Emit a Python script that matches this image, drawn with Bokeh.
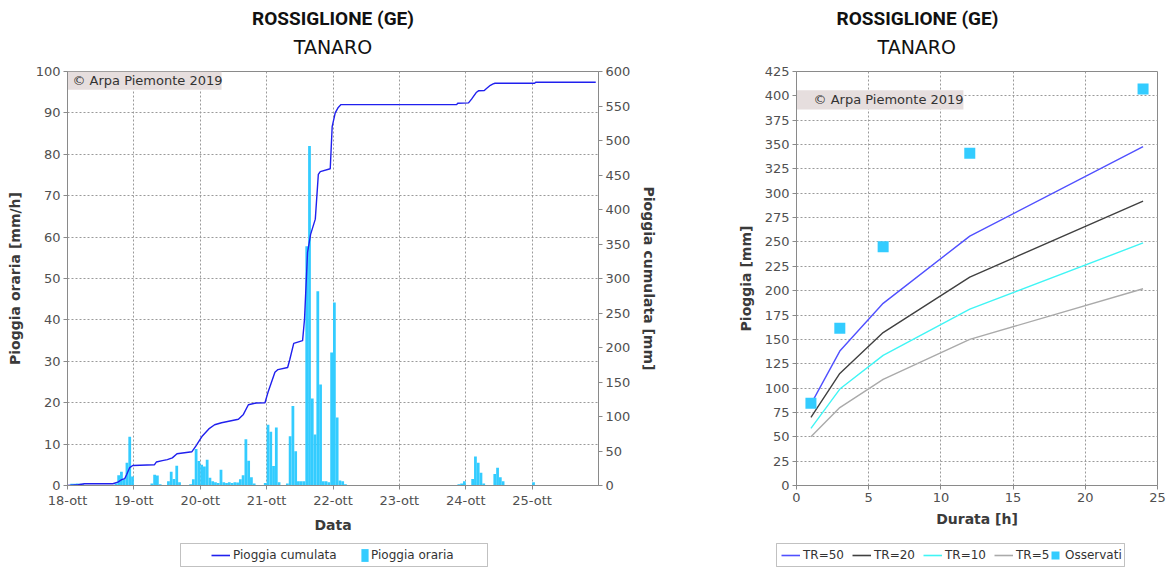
from bokeh.plotting import figure
from bokeh.layouts import row, column
from bokeh.models import (Range1d, LinearAxis, FixedTicker, Legend, LegendItem,
                          Label, BoxAnnotation, Title, ColumnDataSource)
from bokeh.embed import file_html
from bokeh.resources import INLINE

# ---------------- data ----------------
station = "ROSSIGLIONE (GE)"
basin = "TANARO"
copyright_text = "© Arpa Piemonte 2019"

day_ticks_h = [0, 24, 48, 72, 96, 120, 144, 168]
day_labels = ["18-ott", "19-ott", "20-ott", "21-ott", "22-ott", "23-ott", "24-ott", "25-ott"]

# hourly rain [mm/h], one value per hour from 18-ott 00:00
hourly_mm = (
    [0, 0.4, 0.4, 0.5, 0.4, 0.3, 0, 0, 0, 0, 0, 0, 0, 0, 0, 0, 0, 0.5, 2.5, 3.3, 1.5, 5.5, 11.8, 2.2]
    + [0, 0, 0, 0, 0, 0, 0.5, 2.6, 2.4, 0.3, 0, 0, 1.0, 3.3, 1.6, 4.8, 0.8, 0, 0, 0, 0.3, 1.5, 8.8, 5.9]
    + [5.0, 4.6, 6.2, 1.9, 1.0, 0.8, 0.6, 3.8, 0.8, 0.6, 0.8, 0.6, 0.8, 0.7, 1.5, 2.5, 11.2, 6.0, 2.0, 0.5, 0, 0, 0, 0.6]
    + [14.7, 13.0, 4.7, 14.0, 0.8, 0, 0, 0.5, 11.9, 19.2, 8.3, 1.0, 1.0, 1.0, 57.8, 82.0, 21.0, 12.3, 46.9, 24.4, 1.0, 1.0, 0.8, 32.1]
    + [44.2, 16.4, 1.2, 1.0, 0.3, 0, 0, 0, 0, 0, 0, 0, 0, 0, 0, 0, 0, 0, 0, 0, 0, 0, 0, 0]
    + [0, 0, 0, 0, 0, 0, 0, 0, 0, 0, 0, 0, 0, 0, 0, 0, 0, 0, 0, 0, 0, 0.3, 0.5, 1.0]
    + [0, 0, 1.6, 7.0, 5.5, 3.1, 0.5, 0, 0, 0, 2.8, 4.3, 2.0, 1.0, 0, 0, 0, 0, 0, 0, 0, 0, 0, 0]
    + [0.8, 0, 0, 0, 0, 0, 0, 0, 0, 0, 0, 0, 0, 0, 0, 0, 0, 0, 0, 0, 0, 0, 0, 0]
)

# cumulative rain [mm] (hours from 18-ott 00:00)
cum_hours = [0, 1.8, 3.9, 6.1, 16.4, 18.2, 19.6, 20.7, 21.4, 22.5, 23.6, 31.4, 32.1, 34.3, 36.1,
             37.9, 39.6, 45.0, 46.4, 48.6, 51.1, 53.2, 55.7, 61.8, 63.6, 65.4, 68.2, 71.4, 72.5,
             75.0, 76.1, 79.6, 80.4, 81.8, 85.0, 85.7, 86.8, 87.9, 89.6, 90.7, 91.4, 95.0, 95.7,
             96.8, 97.9, 98.9, 140.7, 141.1, 145.0, 146.1, 147.9, 148.6, 150.7, 151.4, 152.9,
             153.9, 154.6, 168.9, 169.3, 191.0]
cum_mm = [0, 0.5, 1.0, 2.5, 2.5, 5, 8.5, 10, 16, 26, 29, 30, 34, 36, 37.5,
          40, 46, 49, 57, 71, 82, 88, 91, 96, 103, 117, 119.5, 120, 135,
          164, 168, 171, 183, 206, 210, 241, 338, 364, 386, 451, 455, 459, 520,
          540, 548, 552, 552, 554, 554.5, 560, 570, 572, 572.5, 575, 580,
          582, 583, 583, 584.5, 584.5]

durations_h = [1, 3, 6, 12, 24]
tr50 = [83.5, 138, 187, 256, 348]
tr20 = [70, 115, 157, 214, 292]
tr10 = [58.6, 99, 133.6, 181, 249]
tr5 = [50, 80, 109, 150, 202]
observed = [84.5, 161.5, 245, 341, 407]

# ---------------- style ----------------
FONT = "DejaVu Sans"
TICK_COLOR = "#505050"
LABEL_COLOR = "#3a3a3a"
GRID_COLOR = "#9a9a9a"
BAR_DARK = "#33CCFF"
BOX_BG = "#E6DEDE"
CUM_COLOR = "#2020EE"
C50, C20, C10, C5 = "#5050FF", "#404040", "#40F5F5", "#AAAAAA"

TOTAL_W = 1174
MAIN_H = 535
LEG_H = 37
LEFT_W = 660
RIGHT_W = TOTAL_W - LEFT_W
NAN = float("nan")


def style_axis(ax):
    ax.major_label_text_font = FONT
    ax.major_label_text_font_size = "13px"
    ax.major_label_text_color = TICK_COLOR
    ax.axis_label_text_font = FONT
    ax.axis_label_text_font_size = "14px"
    ax.axis_label_text_font_style = "bold"
    ax.axis_label_text_color = LABEL_COLOR
    ax.axis_line_color = "#8a8a8a"
    ax.major_tick_line_color = "#8a8a8a"
    ax.minor_tick_line_color = None
    ax.major_tick_in = 0
    ax.major_tick_out = 4
    ax.major_label_standoff = 3


def add_titles(p, align="center", offsets=(0, 0)):
    p.title.text = station
    p.title.text_font = "Roboto"
    p.title.text_font_size = "19px"
    p.title.text_font_style = "bold"
    p.title.text_color = "#111111"
    p.title.align = align
    p.title.offset = offsets[0]
    p.title.standoff = -20
    t = Title(text=basin, text_font=FONT, text_font_size="19px", text_font_style="normal",
              text_color="#111111", align=align, offset=offsets[1], standoff=28)
    p.add_layout(t, "above")


def make_legend(items, x, y, glyph_w, glyph_h, spacing=8, standoff=3):
    return Legend(items=items, orientation="horizontal", location=(x, y),
                  border_line_color=None, background_fill_alpha=0.0,
                  label_text_font=FONT, label_text_font_size="12px", label_text_color="#333333",
                  glyph_width=glyph_w, glyph_height=glyph_h, spacing=spacing, padding=0,
                  margin=0, label_standoff=standoff, label_height=14)


# ---------------- left chart ----------------
p1 = figure(width=LEFT_W, height=MAIN_H, x_range=Range1d(0, 192), y_range=Range1d(0, 100),
            output_backend="svg", toolbar_location=None,
            min_border_left=67, min_border_right=LEFT_W - 67 - 537, min_border_top=71,
            min_border_bottom=MAIN_H - 71 - 416)
p1.background_fill_color = "white"
p1.border_fill_color = "white"
p1.outline_line_color = "#8a8a8a"
add_titles(p1)

p1.extra_y_ranges = {"cum": Range1d(0, 600)}

hours_mid = [h + 0.5 for h in range(len(hourly_mm))]
src_bar = ColumnDataSource(dict(x=hours_mid, top=hourly_mm))
p1.vbar(x="x", top="top", width=1.0, source=src_bar, fill_color=BAR_DARK, line_color=None)
p1.line(cum_hours, cum_mm, y_range_name="cum", line_color=CUM_COLOR, line_width=1.4)

p1.xaxis.ticker = FixedTicker(ticks=day_ticks_h)
p1.xaxis.major_label_overrides = {k: v for k, v in zip(day_ticks_h, day_labels)}
p1.xaxis.axis_label = "Data"
p1.yaxis.ticker = FixedTicker(ticks=list(range(0, 101, 10)))
p1.yaxis.axis_label = "Pioggia oraria [mm/h]"
right_ax = LinearAxis(y_range_name="cum", axis_label="Pioggia cumulata [mm]",
                      ticker=FixedTicker(ticks=list(range(0, 601, 50))))
p1.add_layout(right_ax, "right")
for ax in p1.xaxis + p1.yaxis + [right_ax]:
    style_axis(ax)
p1.xaxis.axis_label_standoff = 6
p1.yaxis.axis_label_standoff = 10
right_ax.axis_label_standoff = 8

for g in (p1.xgrid, p1.ygrid):
    g.grid_line_color = GRID_COLOR
    g.grid_line_dash = "2 2"
    g.grid_line_width = 1
p1.xgrid.ticker = FixedTicker(ticks=day_ticks_h)
p1.ygrid.ticker = FixedTicker(ticks=list(range(0, 101, 10)))

p1.add_layout(BoxAnnotation(left=0, right=55.7, top=100, bottom=95.6, fill_color=BOX_BG,
                            fill_alpha=1.0, line_color=None, level="underlay"))
p1.add_layout(Label(x=1.8, y=97.8, text=copyright_text, text_font=FONT, text_font_size="13px",
                    text_color="#333333", text_baseline="middle", text_align="left"))

# ---------------- right chart ----------------
p2 = figure(width=RIGHT_W, height=MAIN_H, x_range=Range1d(0, 25), y_range=Range1d(0, 425),
            output_backend="svg", toolbar_location=None,
            min_border_left=136, min_border_right=RIGHT_W - 136 - 361, min_border_top=71,
            min_border_bottom=MAIN_H - 71 - 416)
p2.background_fill_color = "white"
p2.border_fill_color = "white"
p2.outline_line_color = "#8a8a8a"
add_titles(p2, align="left", offsets=(40, 81))

p2.line(durations_h, tr50, line_color=C50, line_width=1.4)
p2.line(durations_h, tr20, line_color=C20, line_width=1.4)
p2.line(durations_h, tr10, line_color=C10, line_width=1.4)
p2.line(durations_h, tr5, line_color=C5, line_width=1.4)
p2.scatter(durations_h, observed, marker="square", size=11, fill_color=BAR_DARK, line_color=None)

p2.xaxis.ticker = FixedTicker(ticks=list(range(0, 26, 5)))
p2.yaxis.ticker = FixedTicker(ticks=list(range(0, 426, 25)))
p2.xaxis.axis_label = "Durata [h]"
p2.yaxis.axis_label = "Pioggia [mm]"
for ax in p2.xaxis + p2.yaxis:
    style_axis(ax)
p2.xaxis.axis_label_standoff = 6
p2.yaxis.axis_label_standoff = 8
for g in (p2.xgrid, p2.ygrid):
    g.grid_line_color = GRID_COLOR
    g.grid_line_dash = "2 2"
    g.grid_line_width = 1
p2.xgrid.ticker = FixedTicker(ticks=list(range(0, 26, 5)))
p2.ygrid.ticker = FixedTicker(ticks=list(range(0, 426, 25)))

p2.add_layout(BoxAnnotation(left=0, right=11.56, top=405.8, bottom=386, fill_color=BOX_BG,
                            fill_alpha=1.0, line_color=None, level="underlay"))
p2.add_layout(Label(x=1.18, y=396, text=copyright_text, text_font=FONT, text_font_size="13px",
                    text_color="#333333", text_baseline="middle", text_align="left"))

# ---------------- legend strip (one figure under both charts) ----------------
strip = figure(width=TOTAL_W, height=LEG_H, x_range=Range1d(0, TOTAL_W), y_range=Range1d(0, LEG_H),
               x_axis_type=None, y_axis_type=None, output_backend="svg", toolbar_location=None,
               min_border=0, min_border_left=0, min_border_right=0, min_border_top=0,
               min_border_bottom=0)
strip.outline_line_color = None
strip.grid.visible = False
strip.add_layout(BoxAnnotation(left=180, right=487, bottom=6, top=29, fill_color="white",
                               fill_alpha=1.0, line_color="#333333", line_width=1))
strip.add_layout(BoxAnnotation(left=776, right=1124, bottom=6, top=29, fill_color="white",
                               fill_alpha=1.0, line_color="#333333", line_width=1))
# legend-only renderers (no visible marks)
lg_line = strip.line(x=[NAN], y=[NAN], line_color=CUM_COLOR, line_width=1.6)
lg_bar = strip.vbar(x=[NAN], top=[NAN], width=1, fill_color=BAR_DARK, line_color=None)
l50 = strip.line(x=[NAN], y=[NAN], line_color=C50, line_width=1.6)
l20 = strip.line(x=[NAN], y=[NAN], line_color=C20, line_width=1.6)
l10 = strip.line(x=[NAN], y=[NAN], line_color=C10, line_width=1.6)
l5 = strip.line(x=[NAN], y=[NAN], line_color=C5, line_width=1.6)
lob = strip.scatter(x=[NAN], y=[NAN], marker="square", fill_color=BAR_DARK, line_color=None)

strip.add_layout(make_legend([LegendItem(label="Pioggia cumulata", renderers=[lg_line])],
                             211, 10, 19, 14))
strip.add_layout(make_legend([LegendItem(label="Pioggia oraria", renderers=[lg_bar])],
                             360, 9, 9, 16, standoff=2))
strip.add_layout(make_legend([LegendItem(label="TR=50", renderers=[l50]),
                              LegendItem(label="TR=20", renderers=[l20]),
                              LegendItem(label="TR=10", renderers=[l10]),
                              LegendItem(label="TR=5", renderers=[l5])],
                             781, 10, 19, 14, spacing=8))
strip.add_layout(make_legend([LegendItem(label="Osservati", renderers=[lob])],
                             1045, 7, 20, 20, standoff=0))

layout = column(row(p1, p2), strip)
open("out.html", "w").write(file_html(layout, INLINE))
